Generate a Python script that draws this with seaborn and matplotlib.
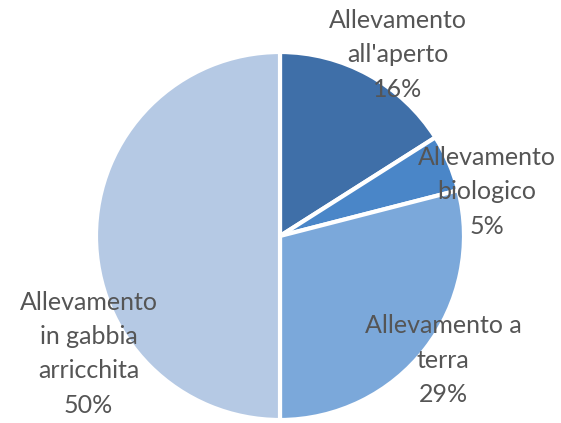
import matplotlib
matplotlib.use("Agg")
import matplotlib.pyplot as plt
import seaborn as sns

# data
labels = ["Allevamento\nall'aperto\n16%", "Allevamento\nbiologico\n5%",
          "Allevamento a\nterra\n29%", "Allevamento\nin gabbia\narricchita\n50%"]
shares = [16, 5, 29, 50]
colors = ["#3f6fa8", "#4a86c8", "#7ba8da", "#b5c9e4"]
label_pos = [(0.64, 0.984), (1.125, 0.24), (0.886, -0.674), (-1.04, -0.64)]

sns.set_theme(style="white")
plt.rcParams["font.family"] = ["Lato", "DejaVu Sans"]

fig = plt.figure(figsize=(5.61, 4.23), dpi=100)
ax = fig.add_axes([96 / 561, 3 / 423, 368 / 561, 368 / 423])

wedges, _ = ax.pie(shares, colors=colors, startangle=90, counterclock=False,
                   radius=1.0, wedgeprops=dict(edgecolor="white", linewidth=3))

for text, (x, y) in zip(labels, label_pos):
    ax.text(x, y, text, ha="center", va="center", fontsize=18,
            color="#555555", linespacing=1.6)

ax.set_xlim(-1, 1)
ax.set_ylim(-1, 1)
ax.set_aspect("equal")
ax.axis("off")

fig.savefig("out.png", dpi=100)
